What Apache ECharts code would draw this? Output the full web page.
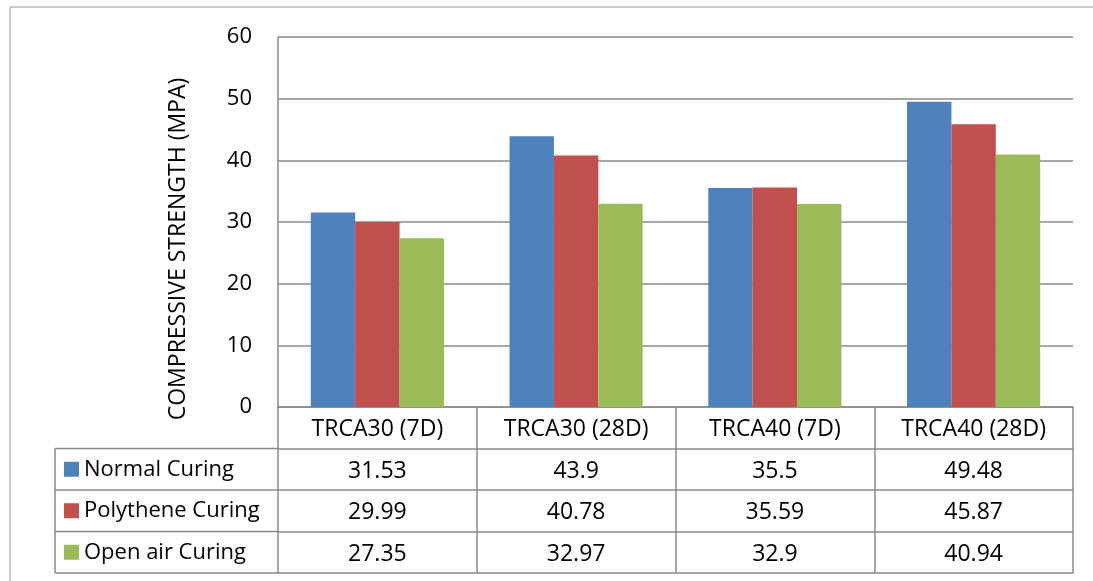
<!DOCTYPE html>
<html>
<head>
<meta charset="utf-8">
<script src="https://cdn.jsdelivr.net/npm/echarts@6/dist/echarts.min.js"></script>
<style>
html,body{margin:0;padding:0;background:#fff;}
#c{width:1093px;height:581px;}
</style>
</head>
<body>
<div id="c"></div>
<script>
var categories = ['TRCA30 (7D)', 'TRCA30 (28D)', 'TRCA40 (7D)', 'TRCA40 (28D)'];
var seriesNames = ['Normal Curing', 'Polythene Curing', 'Open air Curing'];
var normalCuring = [31.53, 43.9, 35.5, 49.48];
var polytheneCuring = [29.99, 40.78, 35.59, 45.87];
var openAirCuring = [27.35, 32.97, 32.9, 40.94];
var yTicks = [0, 10, 20, 30, 40, 50, 60];
var yTitle = 'COMPRESSIVE STRENGTH (MPA)';
var colors = ['#4F81BD', '#C0504D', '#9BBB59'];

var FONT = '"Open Sans"';
var LINE = '#8a8a8a';
var LW = 1.5;
var gridLeft = 278, gridRight = 20, gridTop = 37, gridBottom = 174;
var rowH = 41.5;
var tableLeft = 55;
var plotBottom = 581 - gridBottom;
var tableFont = 23;

var valueRows = [normalCuring, polytheneCuring, openAirCuring];

function tableAxis(data, offset, showLabels) {
  return {
    type: 'category', data: data, position: 'bottom', offset: offset,
    axisLine: {show: true, onZero: false, lineStyle: {color: LINE, width: LW}},
    axisTick: {show: showLabels, interval: 0, length: rowH, lineStyle: {color: LINE, width: LW}},
    axisLabel: {show: showLabels, interval: 0, margin: rowH / 2 + 2, verticalAlign: 'middle', color: '#000', fontSize: tableFont, fontFamily: FONT}
  };
}
var xAxes = [tableAxis(categories, 0, true)];
valueRows.forEach(function (row, i) {
  xAxes.push(tableAxis(row.map(String), rowH * (i + 1), true));
});
xAxes.push(tableAxis(categories, rowH * 4, false));

var graphics = [
  {type: 'rect', shape: {x: 10, y: 7, width: 1200, height: 700}, style: {fill: 'none', stroke: '#999', lineWidth: 1}, silent: true},
  {type: 'text', x: 178, y: 249, rotation: Math.PI / 2, silent: true,
   style: {text: yTitle, fill: '#000', fontSize: 23, fontFamily: FONT, textAlign: 'center', textVerticalAlign: 'middle'}}
];
for (var r = 1; r <= 4; r++) {
  var yy = plotBottom + rowH * r;
  graphics.push({type: 'line', shape: {x1: tableLeft, y1: yy, x2: gridLeft, y2: yy}, style: {stroke: LINE, lineWidth: LW}, silent: true});
}
graphics.push({type: 'line', shape: {x1: tableLeft, y1: plotBottom + rowH, x2: tableLeft, y2: plotBottom + rowH * 4}, style: {stroke: LINE, lineWidth: LW}, silent: true});

var series = valueRows.map(function (d, i) {
  return {
    name: seriesNames[i], type: 'bar', data: d, xAxisIndex: 0,
    barGap: '0%', barCategoryGap: '33%',
    itemStyle: {color: colors[i]}
  };
});

var legends = seriesNames.map(function (n, i) {
  var center = plotBottom + rowH * (i + 1) + rowH / 2;
  return {
    data: [n], orient: 'vertical', left: 64, top: center - 11,
    itemWidth: 15, itemHeight: 15, itemGap: 7, padding: 0, icon: 'rect',
    textStyle: {fontSize: 22, fontFamily: FONT, color: '#000', padding: [0, 0, 0, 0]},
    selectedMode: false
  };
});

var chart = echarts.init(document.getElementById('c'));
chart.setOption({
  animation: false,
  color: colors,
  grid: {left: gridLeft, right: gridRight, top: gridTop, bottom: gridBottom, containLabel: false},
  legend: legends,
  xAxis: xAxes,
  yAxis: {
    type: 'value', min: yTicks[0], max: yTicks[yTicks.length - 1], interval: 10,
    axisLine: {show: true, lineStyle: {color: LINE, width: LW}},
    axisTick: {show: false},
    axisLabel: {margin: 26, color: '#000', fontSize: 22, fontFamily: FONT},
    splitLine: {show: true, lineStyle: {color: LINE, width: LW}}
  },
  graphic: graphics,
  series: series
});
</script>
</body>
</html>
